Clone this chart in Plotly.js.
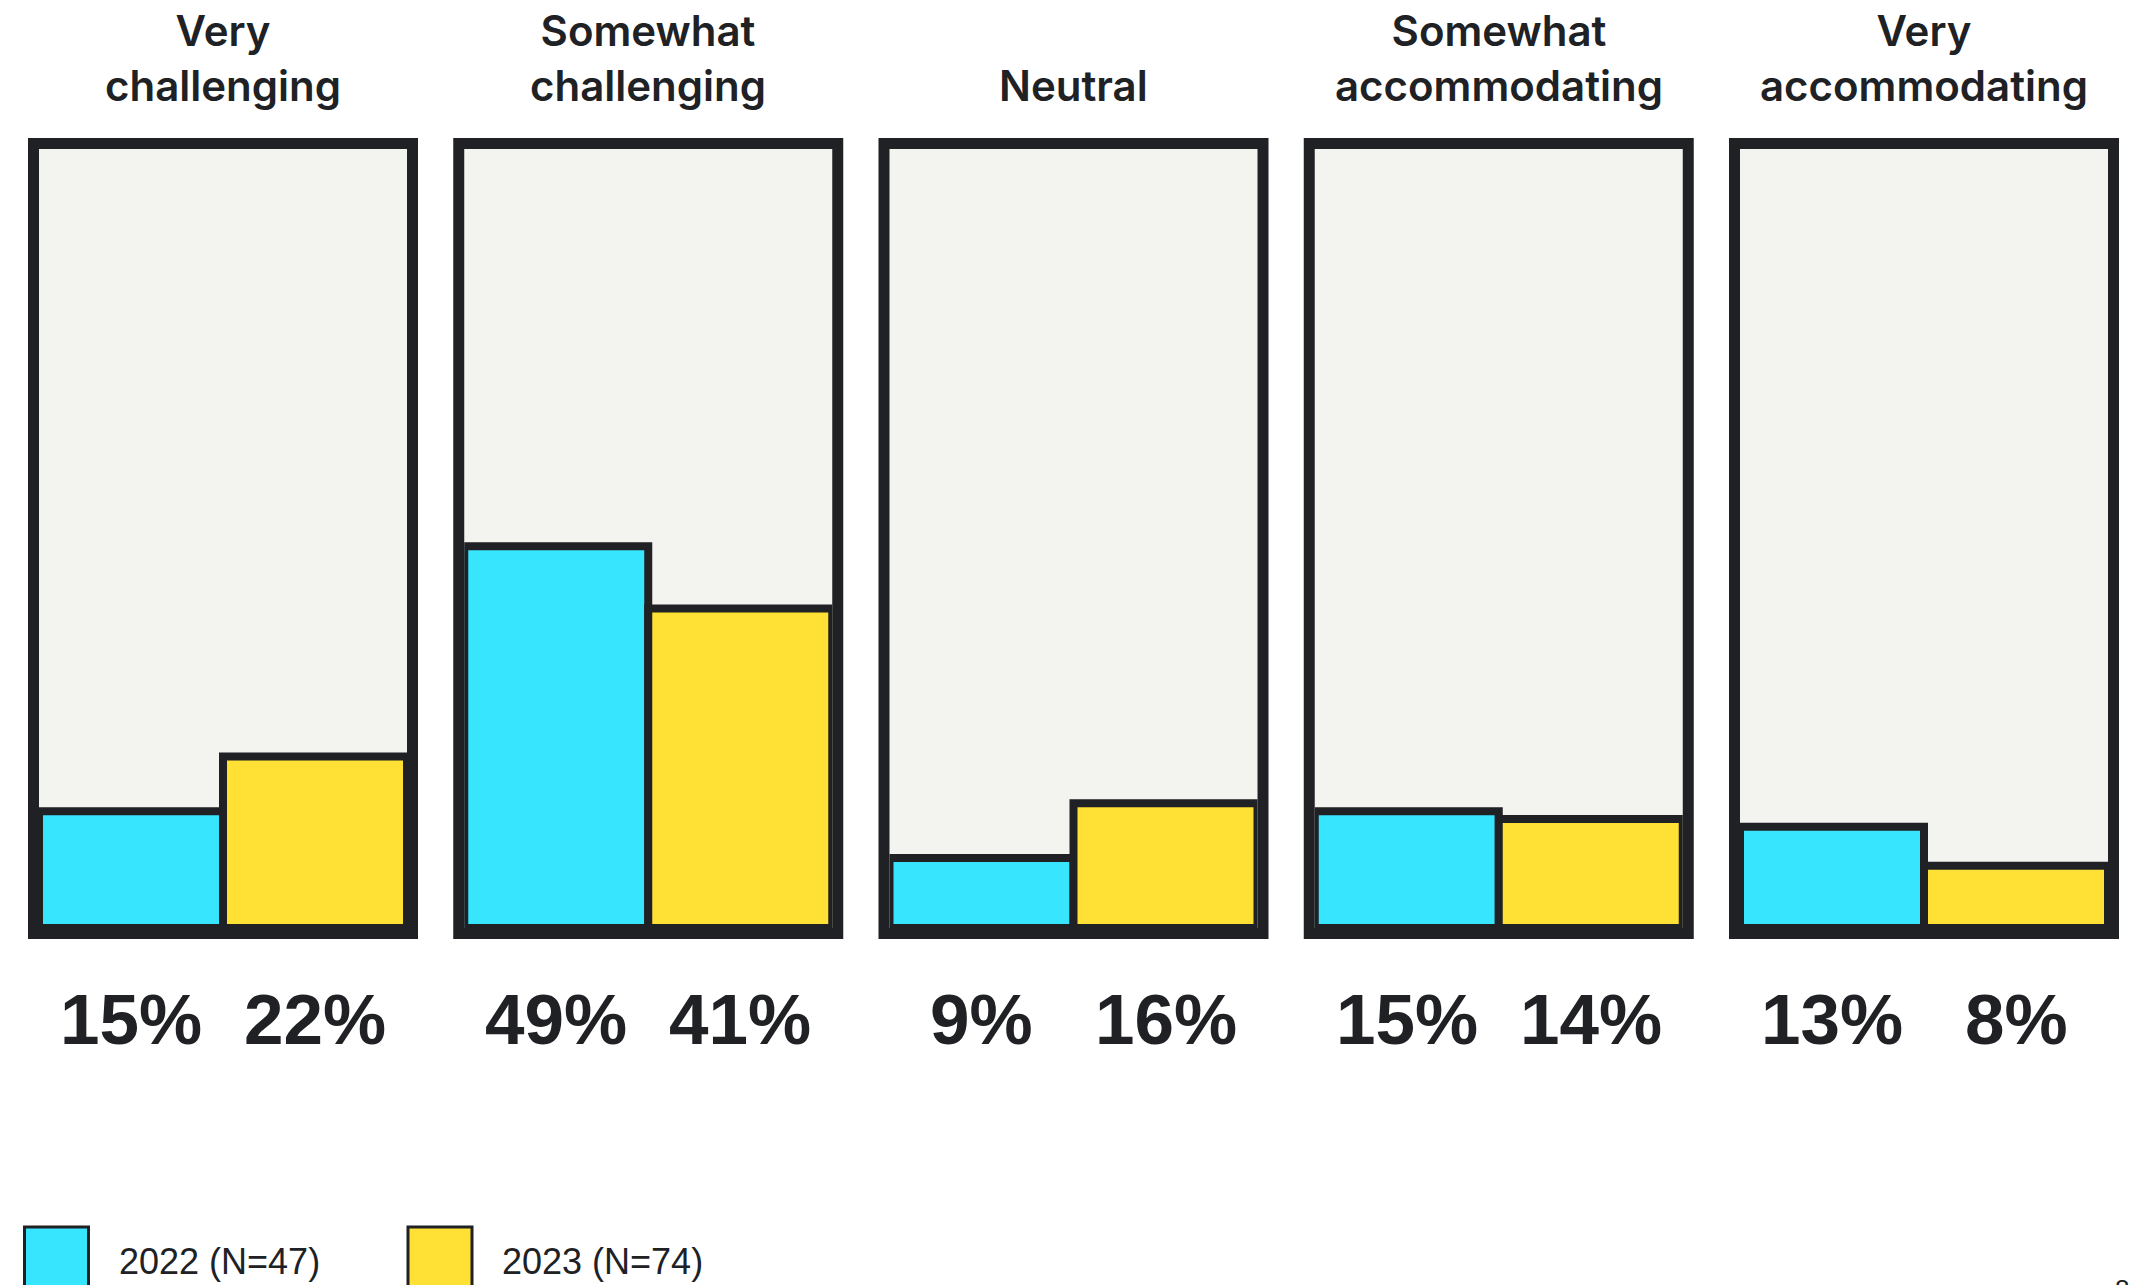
<!DOCTYPE html>
<html>
<head>
<meta charset="utf-8">
<script src="https://cdn.plot.ly/plotly-3.0.1.min.js"></script>
<style>html,body{margin:0;padding:0;background:#fff;}#chart{width:2131px;height:1285px;}</style>
</head>
<body>
<div id="chart"></div>
<script>
// ---- data ----
const categories = ["Very<br>challenging", "Somewhat<br>challenging", "Neutral", "Somewhat<br>accommodating", "Very<br>accommodating"];
const seriesNames = ["2022 (N=47)", "2023 (N=74)"];
const seriesKeys = ["2022", "2023"];
const values2022 = [15, 49, 9, 15, 13];
const values2023 = [22, 41, 16, 14, 8];
const pageNumber = "8";

// ---- styling ----
const W = 2131, H = 1285;
const DARK = "#202124";
const COLORS = ["#38E5FF", "#FFE135"];
const BG = "#F3F3EF";
const panelStep = 425.25, innerLeft = 39, innerWidth = 368;
const innerTop = 149, innerBottom = 928;
const frameW = 11;

const seriesValues = [values2022, values2023];
const traces = [];
const layout = {
  width: W, height: H,
  margin: {l: 0, r: 0, t: 0, b: 0},
  paper_bgcolor: "#ffffff",
  plot_bgcolor: BG,
  showlegend: false,
  barmode: "overlay",
  bargap: 0,
  shapes: [],
  annotations: []
};

const yDom = [(H - innerBottom) / H, (H - innerTop) / H];
categories.forEach((cat, i) => {
  const n = i + 1;
  const xa = "xaxis" + (n === 1 ? "" : n), ya = "yaxis" + (n === 1 ? "" : n);
  const xr = "x" + (n === 1 ? "" : n), yr = "y" + (n === 1 ? "" : n);
  const left = innerLeft + panelStep * i;
  layout[xa] = {domain: [left / W, (left + innerWidth) / W], anchor: yr, type: "category",
    categoryorder: "array", categoryarray: seriesKeys, range: [-0.5, 1.5],
    showticklabels: false, showgrid: false, zeroline: false, showline: false, ticks: "", fixedrange: true};
  layout[ya] = {domain: yDom, anchor: xr, range: [0, 100],
    showticklabels: false, showgrid: false, zeroline: false, showline: false, ticks: "", fixedrange: true};

  seriesKeys.forEach((k, s) => {
    traces.push({
      type: "bar", xaxis: xr, yaxis: yr, name: seriesNames[s],
      x: [k], y: [seriesValues[s][i]], width: [1],
      marker: {color: COLORS[s], line: {color: DARK, width: 8}},
      hoverinfo: "skip"
    });
    // value label under each bar (category index s on the category axis)
    layout.annotations.push({
      xref: xr, yref: "paper", x: s, y: (H - 978) / H, xanchor: "center", yanchor: "top",
      text: seriesValues[s][i] + "%", showarrow: false,
      font: {family: "Liberation Sans, Arial, sans-serif", size: 71, color: DARK, weight: 700}
    });
  });

  // panel frame
  const dx = (frameW / 2) / innerWidth, dy = (frameW / 2) / (innerBottom - innerTop);
  layout.shapes.push({type: "rect", xref: xr + " domain", yref: yr + " domain",
    x0: -dx, x1: 1 + dx, y0: -dy, y1: 1 + dy, layer: "above",
    line: {color: DARK, width: frameW}, fillcolor: "rgba(0,0,0,0)"});

  // category title
  layout.annotations.push({
    xref: xr + " domain", yref: "paper", x: 0.5, y: (H - 113) / H,
    xanchor: "center", yanchor: "bottom", text: cat, showarrow: false, align: "center",
    font: {family: "Inter, Roboto, sans-serif", size: 42, color: DARK, weight: 600}
  });
});

// legend (drawn manually: large swatches)
const legendSwatchX = [24.5, 408];
const legendTextX = [117, 500];
seriesNames.forEach((nm, s) => {
  layout.shapes.push({type: "rect", xref: "paper", yref: "paper",
    x0: legendSwatchX[s] / W, x1: (legendSwatchX[s] + 64) / W,
    y0: -0.06, y1: (H - 1227) / H,
    line: {color: DARK, width: 3}, fillcolor: COLORS[s]});
  layout.annotations.push({xref: "paper", yref: "paper", x: legendTextX[s] / W, y: (H - 1261) / H,
    xanchor: "left", yanchor: "middle", text: nm, showarrow: false,
    font: {family: "Liberation Sans, Arial, sans-serif", size: 36, color: DARK}});
});

// page number (cut at bottom edge)
layout.annotations.push({xref: "paper", yref: "paper", x: 2122 / W, y: (H - 1272) / H,
  xanchor: "center", yanchor: "top", text: pageNumber, showarrow: false,
  font: {family: "Liberation Sans, Arial, sans-serif", size: 26, color: DARK}});

Plotly.newPlot("chart", traces, layout, {displayModeBar: false, staticPlot: true});
</script>
</body>
</html>
